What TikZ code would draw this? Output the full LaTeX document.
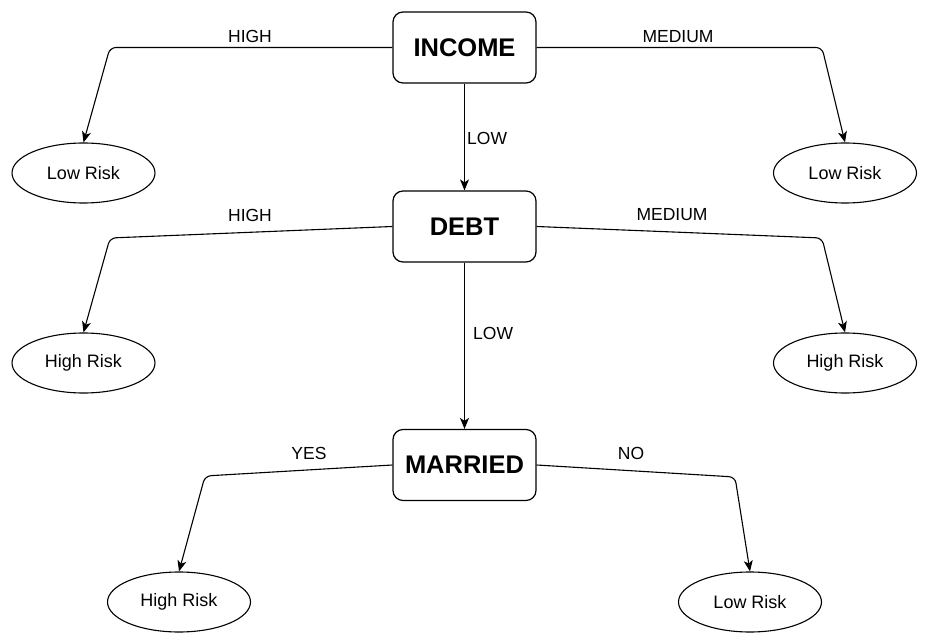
\documentclass[tikz,border=0pt]{standalone}
\usepackage{fontspec}
\setmainfont{Liberation Sans}
\usetikzlibrary{arrows.meta,shapes.geometric}
\begin{document}
\begin{tikzpicture}[x=1pt,y=-1pt,
  box/.style={draw, line width=1.2pt, rounded corners=10pt, minimum width=143pt, minimum height=71pt, inner sep=0pt, font=\fontsize{25.5}{30}\selectfont\bfseries},
  leaf/.style={draw, ellipse, line width=1.1pt, minimum width=143pt, minimum height=60pt, inner sep=0pt, font=\fontsize{18}{21}\selectfont},
  lbl/.style={font=\fontsize{17.5}{21}\selectfont, inner sep=0pt},
  conn/.style={draw, line width=1.1pt, rounded corners=6pt, -{Stealth[length=11pt,width=9pt,inset=3pt]}}]
\useasboundingbox (0,0) rectangle (929,644);

\node[box] (income) at (464.5,47.5) {INCOME};
\node[box] (debt) at (464.5,226.5) {DEBT};
\node[box] (married) at (464.5,465) {MARRIED};

\node[leaf] (l1) at (83.5,173) {Low Risk};
\node[leaf] (r1) at (845,173) {Low Risk};
\node[leaf] (l2) at (83.5,363) {High Risk};
\node[leaf] (r2) at (845,363) {High Risk};
\node[leaf] (l3) at (179,602) {High Risk};
\node[leaf] (r3) at (750,602) {Low Risk};

\coordinate (c1) at (110,47.5);
\coordinate (c2) at (822,47.5);
\coordinate (c3) at (110,238);
\coordinate (c4) at (822,238);
\coordinate (c5) at (205,476);
\coordinate (c6) at (735,477);

\draw[conn] (income.west) -- (c1) -- (l1.north);
\draw[conn] (income.east) -- (c2) -- (r1.north);
\draw[conn] (income.south) -- (debt.north);
\draw[conn] (debt.west) -- (c3) -- (l2.north);
\draw[conn] (debt.east) -- (c4) -- (r2.north);
\draw[conn] (debt.south) -- (married.north);
\draw[conn] (married.west) -- (c5) -- (l3.north);
\draw[conn] (married.east) -- (c6) -- (r3.north);

\node[lbl] (t1) at (250,36.5) {HIGH};
\node[lbl] (t2) at (678,36.5) {MEDIUM};
\node[lbl, anchor=west] (t3) at (467,138) {LOW};
\node[lbl] (t4) at (250,215) {HIGH};
\node[lbl] (t5) at (672,215) {MEDIUM};
\node[lbl, anchor=west] (t6) at (473,333) {LOW};
\node[lbl] (t7) at (309,453) {YES};
\node[lbl] (t8) at (631,453) {NO};
\end{tikzpicture}
\end{document}
